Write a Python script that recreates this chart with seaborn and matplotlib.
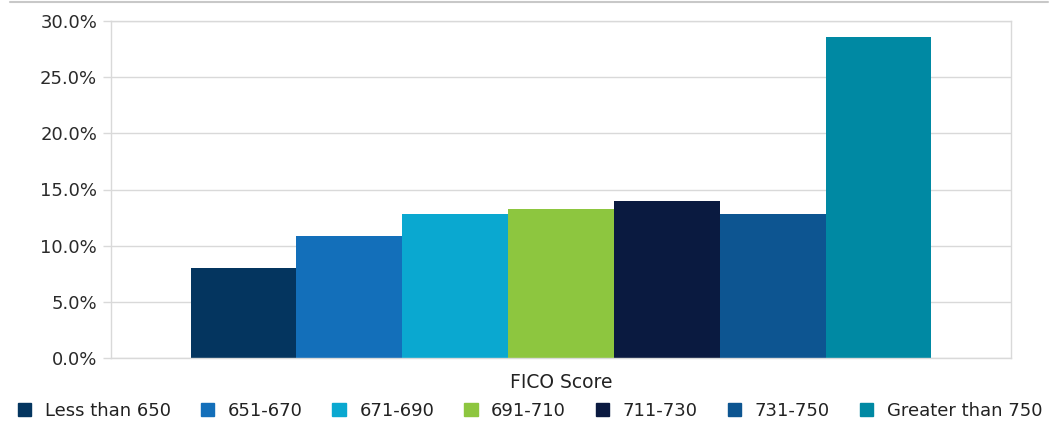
import matplotlib
matplotlib.use("Agg")
import matplotlib.pyplot as plt
import seaborn as sns
import pandas as pd
from matplotlib.ticker import PercentFormatter
from matplotlib.lines import Line2D

categories = ["Less than 650", "651-670", "671-690", "691-710", "711-730", "731-750", "Greater than 750"]
values = [8.0, 10.9, 12.8, 13.3, 14.0, 12.8, 28.6]
colors = ["#04355f", "#136fba", "#0aa8d0", "#8dc63f", "#0a1a40", "#0d5591", "#0089a3"]
group = "FICO Score"
yticks = [0, 5, 10, 15, 20, 25, 30]

df = pd.DataFrame({"group": [group] * len(categories), "bucket": categories, "value": values})

sns.set_theme(style="white")
plt.rcParams["font.family"] = ["DejaVu Sans"]

fig = plt.figure(figsize=(10.54, 4.21), dpi=100)
ax = fig.add_axes([111 / 1054, 1 - 358 / 421, 900 / 1054, 337 / 421])

sns.barplot(data=df, x="group", y="value", hue="bucket", hue_order=categories,
            palette=colors, width=0.823, saturation=1, ax=ax, legend=False,
            linewidth=0, errorbar=None)

ax.set_xlim(-0.5, 0.5)
ax.set_ylim(0, 30)
ax.set_yticks(yticks)
ax.yaxis.set_major_formatter(PercentFormatter(decimals=1))
ax.set_xticks([])
ax.set_xlabel("FICO Score", fontsize=13.5, color="#222222", labelpad=11)
ax.set_ylabel("")
ax.yaxis.grid(True, color="#d9d9d9", linewidth=1)
ax.set_axisbelow(True)
ax.tick_params(axis="y", left=True, length=6, width=1, color="#d9d9d9",
               labelsize=13, labelcolor="#2a2a2a", pad=4)
for s in ax.spines.values():
    s.set_color("#d9d9d9")
    s.set_linewidth(1)

# top border line of figure
fig.add_artist(Line2D([10 / 1054, 1048 / 1054], [1 - 2 / 421, 1 - 2 / 421],
                      color="#c8c8c8", linewidth=1.5, transform=fig.transFigure))

handles = [plt.Rectangle((0, 0), 1, 1, color=c) for c in colors]
fig.legend(handles, categories, loc="center", bbox_to_anchor=(530 / 1054, 1 - 411 / 421),
           ncol=7, frameon=False, fontsize=13, handlelength=0.75, handleheight=0.75,
           handletextpad=0.75, columnspacing=1.65, labelcolor="#222222")

fig.savefig("out.png", dpi=100)
